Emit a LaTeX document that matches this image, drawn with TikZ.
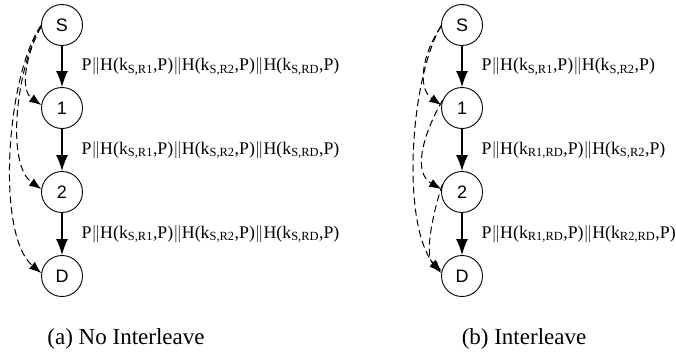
\documentclass[tikz,border=0pt]{standalone}
\usepackage{amsmath,amssymb}
\usepackage{fontspec}
\setmainfont{Liberation Serif}
\newfontfamily\nodefont{Liberation Sans}
\usetikzlibrary{arrows.meta}

\begin{document}
\begin{tikzpicture}[x=1pt,y=-1pt,
    relay/.style={circle,draw,line width=0.9pt,minimum size=41pt,inner sep=0pt,
        font=\nodefont\fontsize{18}{20}\selectfont},
    hop/.style={line width=1.4pt,-{Latex[length=16pt,width=12pt]}},
    ack/.style={line width=1pt,dash pattern=on 7pt off 4pt,
        -{Latex[length=12pt,width=9pt]}},
    msg/.style={midway,anchor=west,xshift=19pt,inner sep=0pt,
        font=\fontsize{17.8}{20}\selectfont},
    caption/.style={font=\fontsize{23}{25}\selectfont}]
\useasboundingbox (0,0) rectangle (676,359);
% (a) no interleave
\node[relay] (aS) at (62,25) {S};
\node[relay] (a1) at (62,108) {1};
\node[relay] (a2) at (62,192) {2};
\node[relay] (aD) at (62,276) {D};
\draw[hop] (aS) -- (a1) node[msg]{P$\|$H(k\textsubscript{S,R1},P)$\|$H(k\textsubscript{S,R2},P)$\|$H(k\textsubscript{S,RD},P)};
\draw[hop] (a1) -- (a2) node[msg]{P$\|$H(k\textsubscript{S,R1},P)$\|$H(k\textsubscript{S,R2},P)$\|$H(k\textsubscript{S,RD},P)};
\draw[hop] (a2) -- (aD) node[msg]{P$\|$H(k\textsubscript{S,R1},P)$\|$H(k\textsubscript{S,R2},P)$\|$H(k\textsubscript{S,RD},P)};
\draw[ack] (aS.185) to[out=240,in=145,looseness=0.9] (a1.172);
\draw[ack] (aS.183) to[out=238,in=145,looseness=0.7] (a2.172);
\draw[ack] (aS.181) to[out=235,in=140,looseness=0.62] (aD.172);
\node[caption] (capa) at (126,339) {(a) No Interleave};
% (b) interleave
\node[relay] (bS) at (462,25) {S};
\node[relay] (b1) at (462,108) {1};
\node[relay] (b2) at (462,192) {2};
\node[relay] (bD) at (462,276) {D};
\draw[hop] (bS) -- (b1) node[msg]{P$\|$H(k\textsubscript{S,R1},P)$\|$H(k\textsubscript{S,R2},P)};
\draw[hop] (b1) -- (b2) node[msg]{P$\|$H(k\textsubscript{R1,RD},P)$\|$H(k\textsubscript{S,R2},P)};
\draw[hop] (b2) -- (bD) node[msg]{P$\|$H(k\textsubscript{R1,RD},P)$\|$H(k\textsubscript{R2,RD},P)};
\draw[ack] (bS.184) to[out=235,in=145,looseness=1] (b1.172);
\draw[ack] (bS.182) to[out=240,in=130,looseness=0.65] (bD.172);
\draw[ack] (b1.158) to[out=240,in=150,looseness=1] (b2.172);
\draw[ack] (b2.158) to[out=250,in=140,looseness=0.7] (bD.166);
\node[caption] (capb) at (524,339) {(b) Interleave};
\end{tikzpicture}
\end{document}
